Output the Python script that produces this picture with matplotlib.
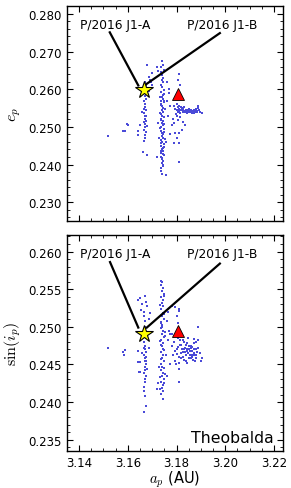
import matplotlib
matplotlib.use("Agg")
import matplotlib.pyplot as plt
from matplotlib.ticker import MultipleLocator, FormatStrFormatter

plt.rcParams['mathtext.fontset'] = 'cm'
plt.rcParams['font.family'] = ['DejaVu Sans']

# ---------------- data: top panel (a_p, e_p) ----------------
left_col_a = [3.1670, 3.1675, 3.1668, 3.1680, 3.1672, 3.1670, 3.1676, 3.1668, 3.1672, 3.1670,
              3.1674, 3.1668, 3.1672, 3.1670, 3.1675, 3.1669, 3.1672, 3.1668, 3.1673, 3.1670,
              3.1672, 3.1668, 3.1676, 3.1665, 3.1678, 3.1666, 3.1690, 3.1685, 3.1695, 3.1700,
              3.1688, 3.1680, 3.1700, 3.1664, 3.1678]
left_col_e = [0.2618, 0.2612, 0.2605, 0.2600, 0.2590, 0.2582, 0.2575, 0.2568, 0.2560, 0.2552,
              0.2545, 0.2538, 0.2530, 0.2522, 0.2515, 0.2508, 0.2500, 0.2493, 0.2486, 0.2478,
              0.2470, 0.2462, 0.2528, 0.2548, 0.2502, 0.2512, 0.2625, 0.2632, 0.2618, 0.2610,
              0.2595, 0.2663, 0.2643, 0.2433, 0.2424]
main_col_a = [3.1740, 3.1745, 3.1738, 3.1748, 3.1735, 3.1742, 3.1746, 3.1739, 3.1744, 3.1737,
              3.1741, 3.1747, 3.1736, 3.1743, 3.1740, 3.1745, 3.1738, 3.1748, 3.1735, 3.1742,
              3.1746, 3.1739, 3.1744, 3.1737, 3.1741, 3.1747, 3.1736, 3.1743, 3.1740, 3.1745,
              3.1738, 3.1748, 3.1735, 3.1742, 3.1746, 3.1739, 3.1744, 3.1737, 3.1741, 3.1747,
              3.1736, 3.1743, 3.1740, 3.1745, 3.1738, 3.1748, 3.1735, 3.1742, 3.1746, 3.1739,
              3.1744, 3.1737, 3.1741, 3.1755,
              3.1750, 3.1733, 3.1749, 3.1736, 3.1751, 3.1734, 3.1748, 3.1738, 3.1750, 3.1733,
              3.1747, 3.1739, 3.1752, 3.1735, 3.1749, 3.1737, 3.1744, 3.1741, 3.1746, 3.1738]
main_col_e = [0.2675, 0.2665, 0.2658, 0.2650, 0.2645, 0.2638, 0.2630, 0.2625, 0.2618, 0.2612,
              0.2605, 0.2598, 0.2592, 0.2585, 0.2580, 0.2575, 0.2570, 0.2565, 0.2560, 0.2555,
              0.2550, 0.2545, 0.2540, 0.2535, 0.2530, 0.2525, 0.2520, 0.2515, 0.2510, 0.2505,
              0.2500, 0.2495, 0.2490, 0.2485, 0.2480, 0.2475, 0.2470, 0.2465, 0.2460, 0.2455,
              0.2450, 0.2445, 0.2440, 0.2435, 0.2430, 0.2425, 0.2420, 0.2415, 0.2410, 0.2405,
              0.2400, 0.2390, 0.2375, 0.2373,
              0.2588, 0.2578, 0.2568, 0.2557, 0.2547, 0.2537, 0.2527, 0.2517, 0.2507, 0.2497,
              0.2487, 0.2477, 0.2467, 0.2457, 0.2447, 0.2437, 0.2427, 0.2417, 0.2395, 0.2382]
right_clu_a = [3.1790, 3.1795, 3.1800, 3.1800, 3.1805, 3.1808, 3.1810, 3.1812, 3.1815, 3.1818,
               3.1820, 3.1822, 3.1825, 3.1828, 3.1830, 3.1832, 3.1835, 3.1838, 3.1840, 3.1842,
               3.1845, 3.1848, 3.1850, 3.1852, 3.1855, 3.1858, 3.1860, 3.1862, 3.1865, 3.1868,
               3.1870, 3.1872, 3.1875, 3.1878, 3.1880, 3.1882, 3.1885, 3.1888, 3.1890, 3.1893,
               3.1905, 3.1898, 3.1802, 3.1797, 3.1815, 3.1808, 3.1825, 3.1835, 3.1822, 3.1786,
               3.1790, 3.1812, 3.1828, 3.1845, 3.1858, 3.1870, 3.1883]
right_clu_e = [0.2555, 0.2548, 0.2560, 0.2545, 0.2552, 0.2540, 0.2556, 0.2547, 0.2538, 0.2553,
               0.2545, 0.2550, 0.2541, 0.2548, 0.2543, 0.2552, 0.2540, 0.2546, 0.2543, 0.2538,
               0.2545, 0.2541, 0.2547, 0.2540, 0.2544, 0.2539, 0.2545, 0.2541, 0.2538, 0.2543,
               0.2540, 0.2546, 0.2541, 0.2544, 0.2540, 0.2548, 0.2543, 0.2556, 0.2550, 0.2545,
               0.2536, 0.2540, 0.2530, 0.2535, 0.2525, 0.2518, 0.2513, 0.2505, 0.2492, 0.2520,
               0.2510, 0.2543, 0.2539, 0.2537, 0.2543, 0.2536, 0.2539]
scatter_a = [3.1520, 3.1580, 3.1590, 3.1595, 3.1600, 3.1643, 3.1643, 3.1650, 3.1657, 3.1718,
             3.1722, 3.1760, 3.1770, 3.1760, 3.1775, 3.1765, 3.1780, 3.1772, 3.1758, 3.1790,
             3.1795, 3.1810, 3.1812, 3.1812, 3.1805, 3.1812, 3.1815, 3.1725, 3.1728, 3.1720,
             3.1768, 3.1785, 3.1800]
scatter_e = [0.2477, 0.2488, 0.2490, 0.2508, 0.2505, 0.2489, 0.2478, 0.2504, 0.2539, 0.2660,
             0.2648, 0.2620, 0.2600, 0.2570, 0.2555, 0.2530, 0.2505, 0.2480, 0.2460, 0.2458,
             0.2483, 0.2483, 0.2457, 0.2406, 0.2625, 0.2640, 0.2610, 0.2510, 0.2470, 0.2420,
             0.2590, 0.2520, 0.2470]

# ---------------- data: bottom panel (a_p, sin i_p) ----------------
b_left_a = [3.1640, 3.1650, 3.1660, 3.1655, 3.1665, 3.1670, 3.1675, 3.1680, 3.1668, 3.1672,
            3.1670, 3.1675, 3.1668, 3.1672, 3.1670, 3.1674, 3.1668, 3.1672, 3.1670, 3.1675,
            3.1669, 3.1672, 3.1668, 3.1673, 3.1670, 3.1672, 3.1668, 3.1676, 3.1665, 3.1678,
            3.1666, 3.1670, 3.1673, 3.1668, 3.1650, 3.1645, 3.1660, 3.1685, 3.1690, 3.1680,
            3.1675, 3.1685]
b_left_s = [0.2535, 0.2538, 0.2530, 0.2522, 0.2520, 0.2541, 0.2533, 0.2527, 0.2515, 0.2508,
            0.2500, 0.2485, 0.2480, 0.2475, 0.2470, 0.2466, 0.2462, 0.2458, 0.2454, 0.2450,
            0.2446, 0.2442, 0.2438, 0.2434, 0.2430, 0.2426, 0.2420, 0.2460, 0.2472, 0.2444,
            0.2415, 0.2408, 0.2395, 0.2387, 0.2453, 0.2440, 0.2465, 0.2510, 0.2518, 0.2490,
            0.2455, 0.2472]
b_main_a = [3.1735, 3.1742, 3.1738, 3.1745, 3.1740, 3.1748, 3.1736, 3.1743, 3.1739, 3.1746,
            3.1737, 3.1744, 3.1741, 3.1747, 3.1735, 3.1742, 3.1738, 3.1745, 3.1740, 3.1748,
            3.1736, 3.1743, 3.1739, 3.1746, 3.1737, 3.1744, 3.1741, 3.1747, 3.1735, 3.1742,
            3.1738, 3.1745, 3.1740, 3.1748, 3.1736, 3.1743, 3.1739, 3.1746, 3.1737, 3.1744,
            3.1750, 3.1733, 3.1749, 3.1736, 3.1751, 3.1734, 3.1748, 3.1738, 3.1750, 3.1733,
            3.1747, 3.1739, 3.1752, 3.1735, 3.1732, 3.1755, 3.1752]
b_main_s = [0.2561, 0.2559, 0.2555, 0.2551, 0.2547, 0.2543, 0.2539, 0.2535, 0.2531, 0.2527,
            0.2523, 0.2519, 0.2515, 0.2511, 0.2507, 0.2503, 0.2499, 0.2495, 0.2491, 0.2487,
            0.2483, 0.2479, 0.2475, 0.2471, 0.2467, 0.2463, 0.2459, 0.2455, 0.2451, 0.2447,
            0.2443, 0.2439, 0.2435, 0.2431, 0.2427, 0.2423, 0.2419, 0.2415, 0.2411, 0.2404,
            0.2541, 0.2529, 0.2517, 0.2505, 0.2493, 0.2481, 0.2469, 0.2457, 0.2445, 0.2433,
            0.2425, 0.2500, 0.2488, 0.2476, 0.2418, 0.2463, 0.2437]
b_blob_a = [3.1780, 3.1785, 3.1790, 3.1795, 3.1800, 3.1805, 3.1810, 3.1815, 3.1820, 3.1825,
            3.1830, 3.1835, 3.1840, 3.1845, 3.1850, 3.1855, 3.1860, 3.1865, 3.1870, 3.1875,
            3.1880, 3.1885, 3.1890, 3.1782, 3.1792, 3.1798, 3.1808, 3.1812, 3.1818, 3.1822,
            3.1828, 3.1832, 3.1838, 3.1842, 3.1848, 3.1852, 3.1858, 3.1862, 3.1868, 3.1872,
            3.1878, 3.1882, 3.1888, 3.1800, 3.1810, 3.1820, 3.1830, 3.1840, 3.1850, 3.1860,
            3.1870, 3.1880, 3.1825, 3.1835, 3.1845, 3.1855, 3.1865, 3.1875, 3.1815, 3.1842,
            3.1858, 3.1868, 3.1895, 3.1900, 3.1905, 3.1838, 3.1848, 3.1853, 3.1863, 3.1873]
b_blob_s = [0.2475, 0.2462, 0.2480, 0.2455, 0.2470, 0.2485, 0.2460, 0.2476, 0.2465, 0.2482,
            0.2456, 0.2472, 0.2463, 0.2478, 0.2458, 0.2468, 0.2475, 0.2460, 0.2470, 0.2462,
            0.2480, 0.2466, 0.2472, 0.2490, 0.2468, 0.2450, 0.2473, 0.2488, 0.2458, 0.2470,
            0.2466, 0.2480, 0.2462, 0.2470, 0.2465, 0.2458, 0.2463, 0.2468, 0.2456, 0.2465,
            0.2458, 0.2462, 0.2482, 0.2464, 0.2452, 0.2476, 0.2470, 0.2455, 0.2475, 0.2458,
            0.2478, 0.2470, 0.2460, 0.2466, 0.2452, 0.2462, 0.2468, 0.2455, 0.2483, 0.2468,
            0.2472, 0.2462, 0.2465, 0.2454, 0.2458, 0.2476, 0.2485, 0.2470, 0.2473, 0.2484]
b_scatter_a = [3.1520, 3.1580, 3.1590, 3.1585, 3.1643, 3.1650, 3.1780, 3.1795, 3.1800, 3.1810,
               3.1812, 3.1805, 3.1890, 3.1810, 3.1812, 3.1760, 3.1770, 3.1765, 3.1775, 3.1760,
               3.1775, 3.1722, 3.1718, 3.1728, 3.1765, 3.1640]
b_scatter_s = [0.2472, 0.2466, 0.2469, 0.2463, 0.2453, 0.2440, 0.2528, 0.2526, 0.2515, 0.2521,
               0.2524, 0.2505, 0.2500, 0.2426, 0.2444, 0.2508, 0.2495, 0.2482, 0.2450, 0.2435,
               0.2490, 0.2425, 0.2418, 0.2446, 0.2520, 0.2468]

star_top = (3.1665, 0.2597)
tri_top = (3.1805, 0.2587)
star_bot = (3.1665, 0.2491)
tri_bot = (3.1805, 0.2495)

label_a = "P/2016 J1-A"
label_b = "P/2016 J1-B"

dot_color = '#4a4ad8'

fig = plt.figure(figsize=(2.91, 4.89), dpi=100)
ax1 = fig.add_axes([0.230, 0.546, 0.7423, 0.4397])
ax2 = fig.add_axes([0.230, 0.0757, 0.7423, 0.4417])


def style(ax):
    ax.tick_params(which='both', direction='in', top=True, right=True, labelsize=8.5)
    ax.tick_params(which='major', length=4, width=0.8, pad=3.5)
    ax.tick_params(which='minor', length=2, width=0.6)
    for s in ax.spines.values():
        s.set_linewidth(1.0)
    ax.xaxis.set_major_locator(MultipleLocator(0.02))
    ax.xaxis.set_minor_locator(MultipleLocator(0.005))
    ax.set_xlim(3.135, 3.2237)


# top panel
for xa, ya in [(left_col_a, left_col_e), (main_col_a, main_col_e),
               (right_clu_a, right_clu_e), (scatter_a, scatter_e)]:
    ax1.plot(xa, ya, 's', ms=2.1, mew=0, color=dot_color)
ax1.plot([3.1526, 3.1643], [0.2751, 0.2610], color='k', lw=1.6, zorder=3)
ax1.plot([3.1978, 3.1677], [0.2749, 0.2614], color='k', lw=1.6, zorder=3)
ax1.plot(*star_top, marker='*', ms=13, mfc='#ffff00', mec='k', mew=0.8, zorder=5)
ax1.plot(*tri_top, marker='^', ms=8.5, mfc='#ff0000', mec='k', mew=0.6, zorder=5)
ax1.text(3.1547, 0.2773, label_a, ha='center', va='center', fontsize=8.8)
ax1.text(3.1986, 0.2773, label_b, ha='center', va='center', fontsize=8.8)
style(ax1)
ax1.set_ylim(0.225, 0.2821)
ax1.yaxis.set_major_locator(MultipleLocator(0.01))
ax1.yaxis.set_minor_locator(MultipleLocator(0.002))
ax1.yaxis.set_major_formatter(FormatStrFormatter('%.3f'))
ax1.set_xticklabels([])
ax1.set_ylabel(r'$e_p$', fontsize=11.5, labelpad=4)

# bottom panel
for xa, ya in [(b_left_a, b_left_s), (b_main_a, b_main_s),
               (b_blob_a, b_blob_s), (b_scatter_a, b_scatter_s)]:
    ax2.plot(xa, ya, 's', ms=2.1, mew=0, color=dot_color)
ax2.plot([3.1527, 3.1643], [0.2586, 0.2499], color='k', lw=1.6, zorder=3)
ax2.plot([3.1978, 3.1678], [0.2584, 0.2499], color='k', lw=1.6, zorder=3)
ax2.plot(*star_bot, marker='*', ms=13, mfc='#ffff00', mec='k', mew=0.8, zorder=5)
ax2.plot(*tri_bot, marker='^', ms=8.5, mfc='#ff0000', mec='k', mew=0.6, zorder=5)
ax2.text(3.1547, 0.2597, label_a, ha='center', va='center', fontsize=8.8)
ax2.text(3.1986, 0.2597, label_b, ha='center', va='center', fontsize=8.8)
ax2.text(0.958, 0.04, 'Theobalda', transform=ax2.transAxes, ha='right', va='baseline', fontsize=11.3)
style(ax2)
ax2.set_ylim(0.2335, 0.2622)
ax2.yaxis.set_major_locator(MultipleLocator(0.005))
ax2.yaxis.set_minor_locator(MultipleLocator(0.001))
ax2.yaxis.set_major_formatter(FormatStrFormatter('%.3f'))
ax2.xaxis.set_major_formatter(FormatStrFormatter('%.2f'))
ax2.set_ylabel(r'$\sin(i_p)$', fontsize=11.5, labelpad=4)
ax2.set_xlabel(r'$a_p$ (AU)', fontsize=10.5, labelpad=-0.5)

fig.savefig('out.png', dpi=100)
